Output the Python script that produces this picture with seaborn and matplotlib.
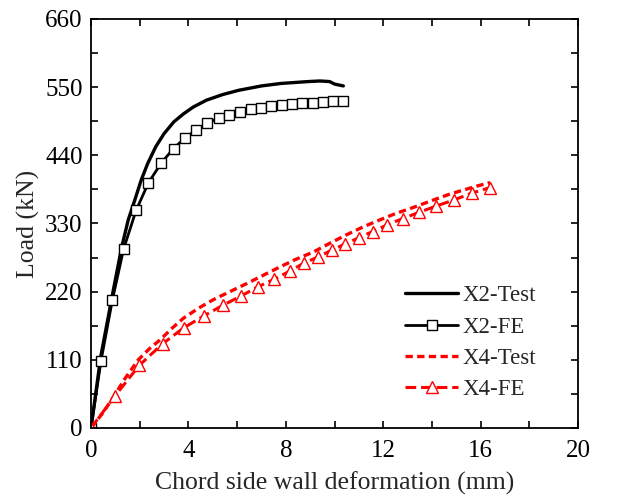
import matplotlib
matplotlib.use("Agg")
import matplotlib.pyplot as plt
import seaborn as sns
from matplotlib.ticker import MultipleLocator

# ---- data ----
x2_test_x = [0, 0.4, 0.88, 1.25, 1.53, 1.8, 2.06, 2.33, 2.66, 3.0, 3.4, 3.8, 4.2, 4.74,
             5.4, 6.07, 7.0, 7.8, 8.9, 9.4, 9.8, 10.0, 10.36]
x2_test_y = [0, 115, 215, 290, 336, 368, 400, 427, 454, 475, 494, 507, 518, 529,
             538, 545, 552, 556, 559, 560, 559, 555, 552]

x2_fe_x = [0, 0.41, 0.875, 1.34, 1.85, 2.35, 2.87, 3.39, 3.86, 4.32, 4.78, 5.24, 5.68, 6.12,
           6.56, 6.98, 7.40, 7.83, 8.27, 8.68, 9.10, 9.51, 9.92, 10.33]
x2_fe_y = [0, 108, 206, 289, 351, 395, 427, 451, 468, 481, 492, 500, 505, 510,
           514, 517, 519, 521, 523, 524, 525, 526, 527, 528]

x4_test_x = [0, 0.5, 0.92, 1.4, 1.94, 2.4, 2.83, 3.3, 3.79, 4.4, 5.02, 5.7, 6.39, 7.1,
             7.76, 8.4, 9.13, 9.8, 10.5, 11.2, 11.87, 12.5, 13.24, 14.06, 14.7, 15.29,
             15.9, 16.39]
x4_test_y = [0, 25, 50, 80, 110, 128, 142, 160, 177, 193, 207, 220, 233, 247,
             260, 272, 284, 298, 312, 325, 336, 346, 356, 368, 377, 384,
             391, 396]

x4_fe_x = [0, 0.99, 1.98, 2.94, 3.82, 4.64, 5.41, 6.16, 6.86, 7.52, 8.15, 8.74, 9.32, 9.88,
           10.44, 10.99, 11.56, 12.17, 12.80, 13.47, 14.16, 14.90, 15.63, 16.39]
x4_fe_y = [0, 52, 101, 136, 162, 181, 198, 213, 228, 240, 253, 266, 276, 287,
           297, 307, 317, 328, 338, 348, 358, 368, 379, 388]

sns.set_theme(style="ticks")
plt.rcParams["font.family"] = ["Liberation Serif", "DejaVu Serif"]

fig = plt.figure(figsize=(6.19, 5.00), dpi=100)
ax = fig.add_axes([0.147, 0.144, 0.787, 0.818])

sns.lineplot(x=x2_test_x, y=x2_test_y, ax=ax, color="black", linewidth=2.4,
             estimator=None, sort=False, label="X2-Test")
sns.lineplot(x=x2_fe_x, y=x2_fe_y, ax=ax, color="black", linewidth=2.0,
             marker="s", markersize=7, markerfacecolor="white", markeredgecolor="black",
             markeredgewidth=1.0, estimator=None, sort=False, label="X2-FE")
sns.lineplot(x=x4_test_x, y=x4_test_y, ax=ax, color="red", linewidth=2.4,
             estimator=None, sort=False, label="X4-Test")
ax.lines[-1].set_dashes((2.2, 1.3))
sns.lineplot(x=x4_fe_x, y=x4_fe_y, ax=ax, color="red", linewidth=2.2,
             marker="^", markersize=8, markerfacecolor="white", markeredgecolor="red",
             markeredgewidth=1.0, estimator=None, sort=False, label="X4-FE")
ax.lines[-1].set_dashes((3.5, 1.6))

ax.set_xlim(0, 20)
ax.set_ylim(0, 660)
ax.xaxis.set_major_locator(MultipleLocator(4))
ax.xaxis.set_minor_locator(MultipleLocator(2))
ax.yaxis.set_major_locator(MultipleLocator(110))
ax.yaxis.set_minor_locator(MultipleLocator(55))
ax.tick_params(which="both", direction="in", top=True, right=True,
               length=5, width=1.2, labelsize=18, colors="black")
ax.tick_params(axis="x", pad=8.5)
ax.tick_params(axis="y", pad=6)
for s in ax.spines.values():
    s.set_visible(True)
    s.set_linewidth(1.3)
    s.set_color("black")

ax.set_xlabel("Chord side wall deformation (mm)", fontsize=18.5, labelpad=7)
ax.set_ylabel("Load (kN)", fontsize=18.5, labelpad=4)

ax.legend(loc="upper left", bbox_to_anchor=(0.645, 0.349), frameon=False, fontsize=16.5,
          handlelength=2.3, handletextpad=0.2, labelspacing=0.45,
          borderaxespad=0, borderpad=0)

fig.savefig("out.png", dpi=100)
